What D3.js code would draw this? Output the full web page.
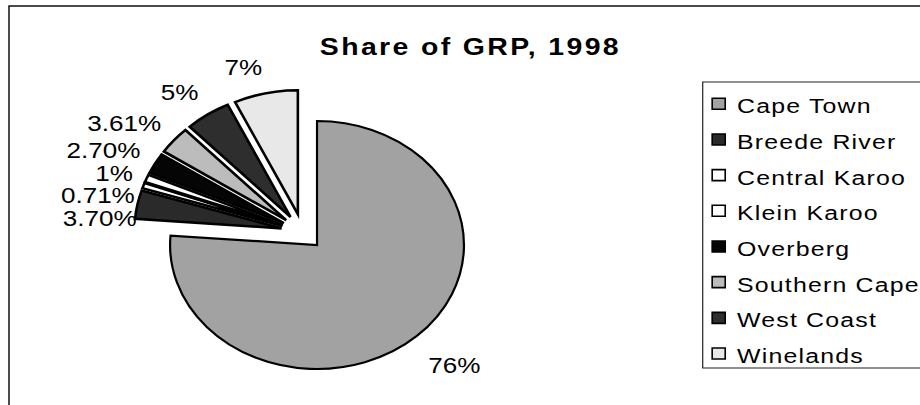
<!DOCTYPE html>
<html lang="en">
<head>
<meta charset="UTF-8">
<title>Share of GRP, 1998</title>
<script src="https://cdn.jsdelivr.net/npm/d3@7"></script>
<style>
  html, body { margin: 0; background: #fff; }
  svg { display: block; font-family: "Liberation Sans", Arial, sans-serif; }
</style>
</head>
<body>
<svg id="chart"></svg>
<script>
const regions = ['Cape Town', 'Breede River', 'Central Karoo', 'Klein Karoo', 'Overberg', 'Southern Cape', 'West Coast', 'Winelands'];
const shares = [76, 3.70, 0.71, 1, 2.70, 3.61, 5, 7];
const shareLabels = ['76%', '3.70%', '0.71%', '1%', '2.70%', '3.61%', '5%', '7%'];
const fills = ['#a2a2a2', '#2a2a2a', '#ffffff', '#ffffff', '#050505', '#bcbcbc', '#2e2e2e', '#e8e8e8'];

const width = 920, height = 405;
const stretch = 1.185; // the scan is wider than it is tall, so draw everything squeezed and stretch it back
const svg = d3.select('#chart').attr('width', width).attr('height', height);

// outer chart frame, runs off the right and bottom
svg.append('rect')
    .attr('x', 9).attr('y', 6)
    .attr('width', width).attr('height', height)
    .attr('fill', 'none').attr('stroke', '#111').attr('stroke-width', 1.5);

const g = svg.append('g').attr('transform', `scale(${stretch},1)`);

// title
g.append('text')
    .attr('x', 397).attr('y', 55)
    .attr('text-anchor', 'middle')
    .style('font-size', '24px').style('font-weight', 'bold').style('letter-spacing', '2px')
    .text('Share of GRP, 1998');

// pie
const radius = 124, explode = 18;
const center = [255.3, 231.8];
const arcs = d3.pie().sort(null).value(i => shares[i])(d3.range(shares.length));
const arc = d3.arc().innerRadius(0).outerRadius(radius);
const mid = d => (d.startAngle + d.endAngle) / 2;

const pieG = g.append('g').attr('transform', `translate(${center})`);
pieG.selectAll('path')
    .data(arcs)
    .join('path')
    .attr('transform', d => `translate(${explode * Math.sin(mid(d))},${-explode * Math.cos(mid(d))})`)
    .attr('d', arc)
    .attr('fill', d => fills[d.data])
    .attr('stroke', '#000')
    .attr('stroke-width', d => d.data === 0 ? 2.2 : 2.6)
    .attr('stroke-linejoin', 'miter')
    .attr('vector-effect', 'non-scaling-stroke');

// percentage labels, stacked where they would collide
const labelR = radius + explode + 14;
const lineH = 22.5;
const labels = arcs.map(d => {
    const a = mid(d);
    const lift = Math.cos(a) > 0 ? 13 : 26; // box sits outside the slice end
    return {
        i: d.data,
        x: labelR * Math.sin(a),
        y: -labelR * Math.cos(a) - Math.cos(a) * lift,
        left: Math.sin(a) < 0,
        pushed: false
    };
});
const leftSide = labels.filter(l => l.left).sort((a, b) => a.y - b.y);
for (let k = 1; k < leftSide.length; k++) {
    const prev = leftSide[k - 1], cur = leftSide[k];
    if (cur.y < prev.y + lineH) {
        cur.y = prev.y + lineH;
        cur.x = prev.pushed ? Math.max(cur.x, prev.x) + 1.5 : cur.x + 1.5;
        cur.pushed = true;
    }
}
pieG.selectAll('text.pct')
    .data(labels)
    .join('text')
    .attr('class', 'pct')
    .attr('x', d => d.x)
    .attr('y', d => d.y)
    .attr('dy', '0.36em')
    .attr('text-anchor', d => d.left ? 'end' : 'start')
    .style('font-size', '22px')
    .text(d => shareLabels[d.i]);

// legend
const legendX = 593, legendTop = 82, legendBottom = 368;
g.append('rect')
    .attr('x', legendX).attr('y', legendTop)
    .attr('width', 300).attr('height', legendBottom - legendTop)
    .attr('fill', 'none').attr('stroke', '#222').attr('stroke-width', 1.2)
    .attr('vector-effect', 'non-scaling-stroke');

const legendY = d3.scalePoint().domain(regions).range([113.3, 363]);
const item = g.selectAll('g.item')
    .data(regions)
    .join('g')
    .attr('class', 'item')
    .attr('transform', d => `translate(0,${legendY(d)})`);
item.append('rect')
    .attr('x', 601).attr('y', -15)
    .attr('width', 11).attr('height', 11)
    .attr('fill', (d, i) => fills[i])
    .attr('stroke', '#000').attr('stroke-width', 1.6)
    .attr('vector-effect', 'non-scaling-stroke');
item.append('text')
    .attr('x', 622).attr('y', 0)
    .style('font-size', '21px').style('letter-spacing', '1px')
    .text(d => d);
</script>
</body>
</html>
